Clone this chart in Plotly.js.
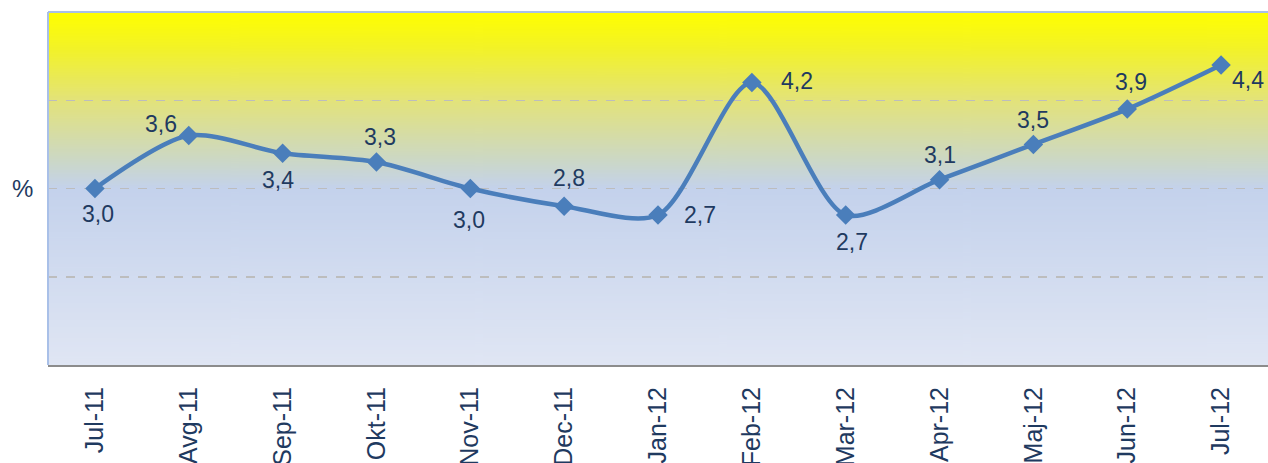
<!DOCTYPE html>
<html>
<head>
<meta charset="utf-8">
<script src="https://cdn.plot.ly/plotly-3.0.1.min.js"></script>
<style>html,body{margin:0;padding:0;background:#fff;}#chart{width:1268px;height:463px;}</style>
</head>
<body>
<div id="chart"></div>
<script>
const months = ['Jul-11','Avg-11','Sep-11','Okt-11','Nov-11','Dec-11','Jan-12','Feb-12','Mar-12','Apr-12','Maj-12','Jun-12','Jul-12'];
const inflation = [3.0, 3.6, 3.4, 3.3, 3.0, 2.8, 2.7, 4.2, 2.7, 3.1, 3.5, 3.9, 4.4];

// label offsets in pixels (style only): [dx, dy] with dy positive = up
const labelOffsets = [[3,-25],[-28,12],[-5,-27],[4,25],[-1,-31],[5,28],[42,0],[45,2],[6,-27],[0,25],[0,24],[4,27],[27,-15]];

// background gradient image for the plot area
const cv = document.createElement('canvas');
cv.width = 10; cv.height = 400;
const ctx = cv.getContext('2d');
const g = ctx.createLinearGradient(0, 0, 0, 400);
g.addColorStop(0, '#ffff00');
g.addColorStop(0.1, '#f3f326');
g.addColorStop(0.25, '#e3e37a');
g.addColorStop(0.42, '#ccd8c6');
g.addColorStop(0.5, '#c4d2ec');
g.addColorStop(1, '#e0e6f4');
ctx.fillStyle = g;
ctx.fillRect(0, 0, 10, 400);
const bgUrl = cv.toDataURL();

const textColor = '#1f3a60';
const fontFam = 'Liberation Sans, Arial, sans-serif';

const trace = {
  x: months,
  y: inflation,
  type: 'scatter',
  mode: 'lines+markers',
  line: {color: '#4a7ebb', width: 4.5, shape: 'spline', smoothing: 0.8},
  marker: {symbol: 'diamond', size: 15, color: '#4a7ebb'},
  cliponaxis: false,
  hoverinfo: 'skip'
};

const valueAnnotations = inflation.map((v, i) => ({
  x: months[i], y: v, xref: 'x', yref: 'y',
  text: v.toFixed(1).replace('.', ','),
  showarrow: false,
  xanchor: 'center', yanchor: 'middle',
  xshift: labelOffsets[i][0], yshift: labelOffsets[i][1],
  font: {family: fontFam, size: 23, color: textColor}
}));

const layout = {
  width: 1268, height: 463,
  margin: {l: 48, r: 0, t: 12, b: 98},
  paper_bgcolor: '#ffffff',
  plot_bgcolor: 'rgba(0,0,0,0)',
  showlegend: false,
  xaxis: {
    type: 'category',
    range: [-0.5, 12.5],
    tickangle: -90,
    tickfont: {family: fontFam, size: 25, color: textColor},
    showgrid: false,
    showline: true, linecolor: '#8c8c8c', linewidth: 2,
    ticks: 'outside', ticklen: 10, tickcolor: 'rgba(0,0,0,0)',
    zeroline: false,
    automargin: false,
    fixedrange: true
  },
  yaxis: {
    range: [1, 5],
    tickvals: [2, 3, 4],
    showticklabels: false,
    showgrid: true, gridcolor: '#bdbdbd', gridwidth: 1.5, griddash: 'dash',
    zeroline: false,
    showline: false,
    fixedrange: true
  },
  images: [{
    source: bgUrl, xref: 'paper', yref: 'paper', x: 0, y: 1, sizex: 1, sizey: 1,
    sizing: 'stretch', xanchor: 'left', yanchor: 'top', layer: 'below'
  }],
  shapes: [
    {type: 'line', xref: 'paper', yref: 'paper', x0: 0, x1: 1, y0: 1, y1: 1, line: {color: '#a9c0e8', width: 2}},
    {type: 'line', xref: 'paper', yref: 'paper', x0: 0, x1: 0, y0: 0, y1: 1, line: {color: '#a9c0e8', width: 2}}
  ],
  annotations: [{
    text: '%', xref: 'paper', yref: 'y', x: -0.021, y: 3, xanchor: 'center', yanchor: 'middle',
    showarrow: false, font: {family: fontFam, size: 24, color: textColor}
  }].concat(valueAnnotations)
};

Plotly.newPlot('chart', [trace], layout, {displayModeBar: false, staticPlot: true});
</script>
</body>
</html>
